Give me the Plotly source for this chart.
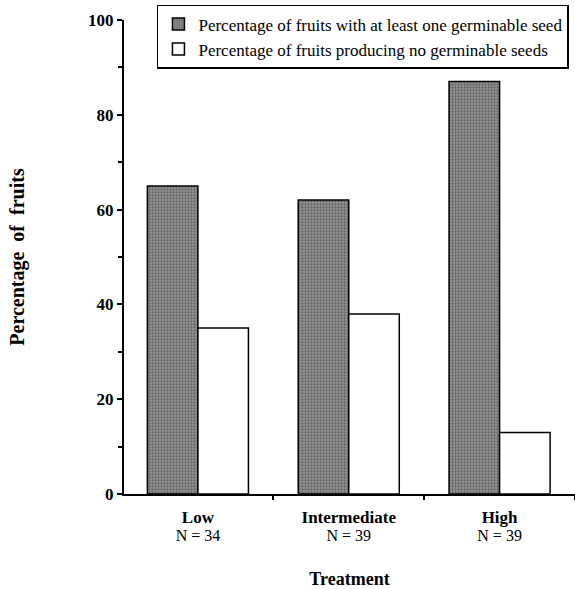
import plotly.graph_objects as go

categories = ["Low", "Intermediate", "High"]
sample_sizes = [34, 39, 39]
with_seed = [65, 62, 87]
no_seed = [35, 38, 13]
series_names = ["Percentage of fruits with at least one germinable seed",
                "Percentage of fruits producing no germinable seeds"]

ticktext = [f"<span style='font-size:17px'><b>{c}</b></span><br><span style='font-size:16px'>N = {n}</span>"
            for c, n in zip(categories, sample_sizes)]

FONT = "Liberation Serif, Times New Roman, serif"

fig = go.Figure()
fig.add_trace(go.Bar(
    x=categories, y=with_seed, name=series_names[0],
    marker=dict(color="#6c6c6c", line=dict(color="black", width=1.5),
                pattern=dict(shape=".", fgcolor="#333333", bgcolor="#959595", size=3, solidity=0.45)),
))
fig.add_trace(go.Bar(
    x=categories, y=no_seed, name=series_names[1],
    marker=dict(color="white", line=dict(color="black", width=1.5)),
))

fig.update_layout(
    width=575, height=589,
    margin=dict(l=124, r=0, t=20, b=95),
    paper_bgcolor="white", plot_bgcolor="white",
    font=dict(family=FONT, color="black", size=17),
    barmode="group", bargap=0.33, bargroupgap=0,
    showlegend=True,
    legend=dict(x=0.073, y=1.032, xanchor="left", yanchor="top",
                bordercolor="black", borderwidth=1.5, bgcolor="white",
                font=dict(family=FONT, size=17, color="black"),
                tracegroupgap=0, itemwidth=30),
    xaxis=dict(
        tickmode="array", tickvals=categories, ticktext=ticktext,
        range=[-0.49, 2.5], automargin=False,
        showline=True, linecolor="black", linewidth=2,
        ticks="outside", tickson="boundaries", ticklen=4, tickcolor="black", tickwidth=1.5,
        ticklabelstandoff=10,
        tickfont=dict(family=FONT, size=14, color="black"),
        title=dict(text="<b>Treatment</b>", font=dict(family=FONT, size=18), standoff=33),
        showgrid=False, zeroline=False,
    ),
    yaxis=dict(
        range=[0, 100], dtick=20, tick0=0, automargin=False,
        showline=True, linecolor="black", linewidth=2,
        ticks="outside", ticklen=5, tickcolor="black", tickwidth=1.5,
        minor=dict(dtick=10, ticks="outside", ticklen=4, tickcolor="black", tickwidth=1.5),
        tickfont=dict(family=FONT, size=17, color="black", weight="bold"),
        title=dict(text="<b>Percentage  of  fruits</b>", font=dict(family=FONT, size=20), standoff=58),
        showgrid=False, zeroline=False,
    ),
)

fig.write_html("out.html")
